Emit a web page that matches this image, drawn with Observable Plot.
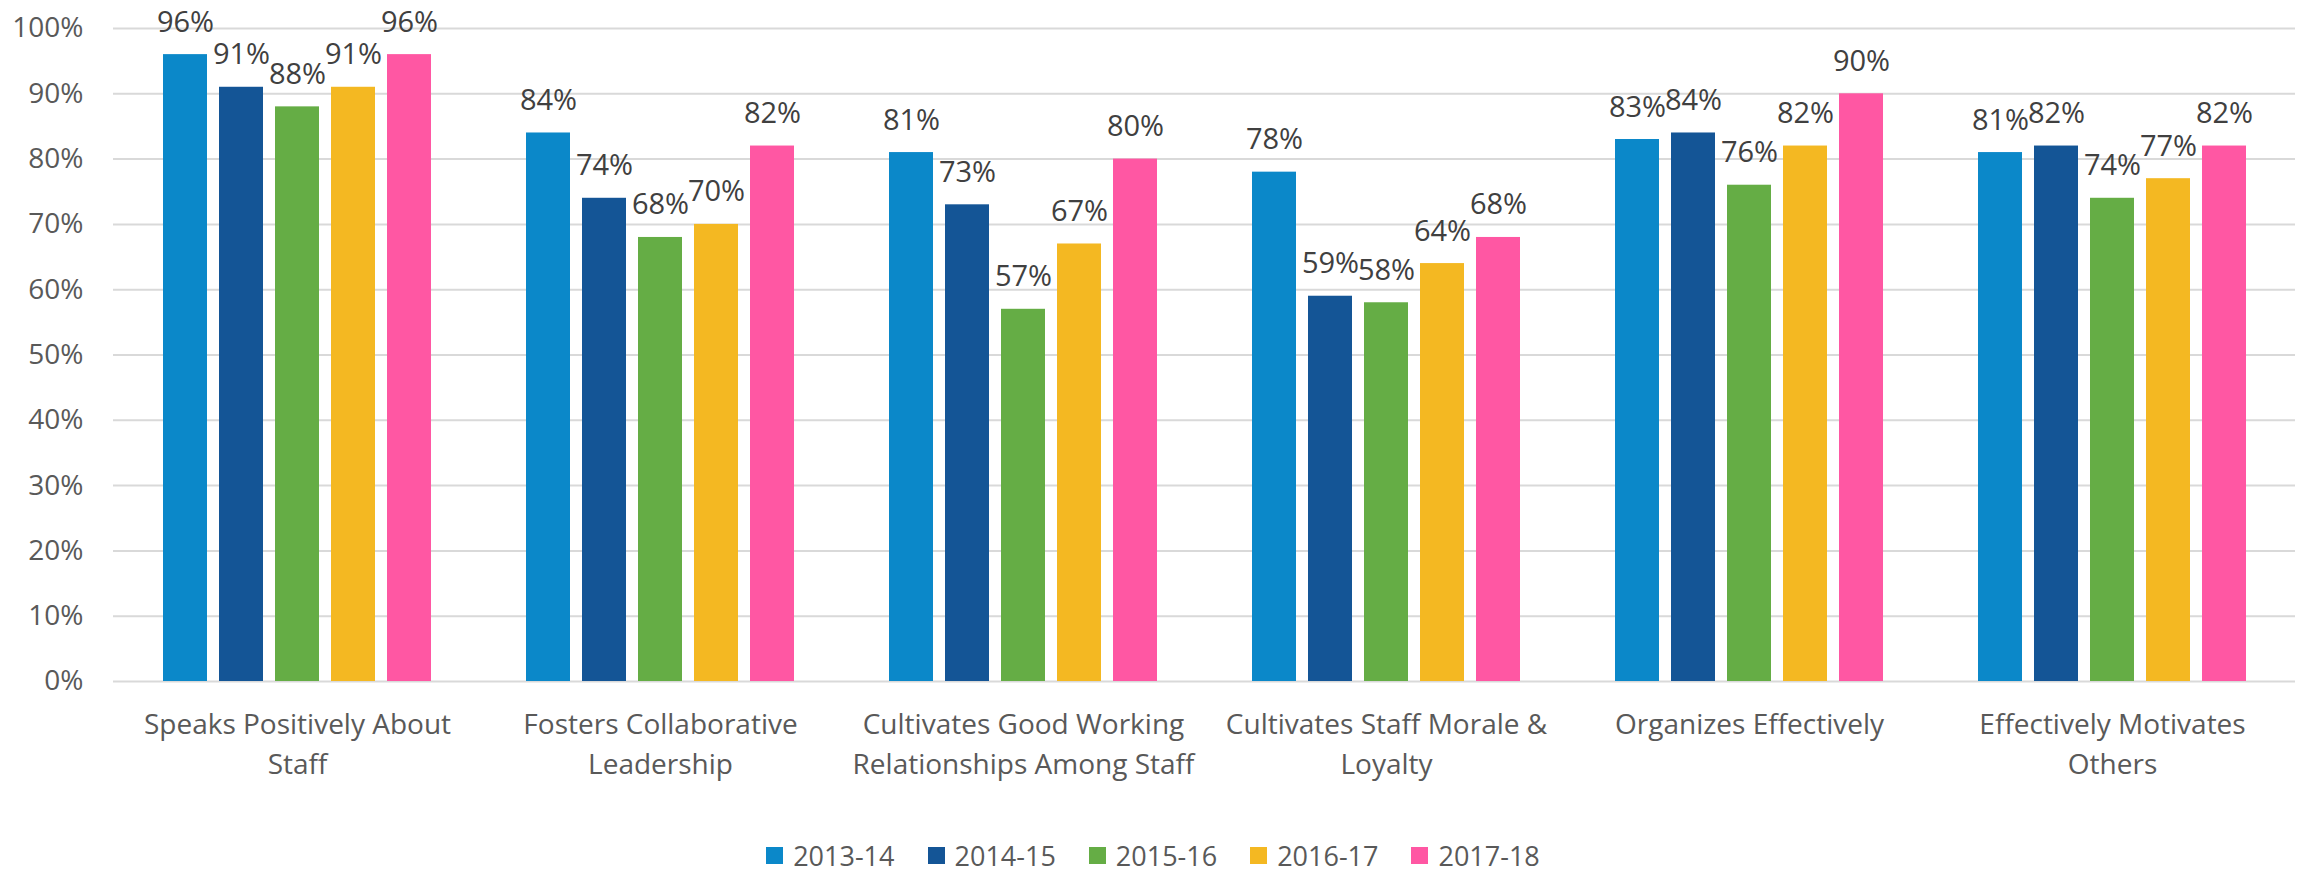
<!DOCTYPE html>
<html>
<head>
<meta charset="utf-8">
<script src="https://cdn.jsdelivr.net/npm/d3@7"></script>
<script src="https://cdn.jsdelivr.net/npm/@observablehq/plot@0.6"></script>
<style>
  body { margin: 0; background: #fff; font-family: "Open Sans", sans-serif; }
  #chart { position: relative; width: 2306px; height: 810px; }
  #chart svg { position: absolute; left: 0; top: 0; }
  #legend { display: flex; justify-content: center; align-items: center; height: 90px; gap: 33px; font-size: 27px; color: #595959; }
  .item { display: flex; align-items: center; gap: 10px; }
  .sw { width: 17px; height: 17px; }
</style>
</head>
<body>
<div id="chart"></div>
<div id="legend"></div>
<script>
const categories = [
  "Speaks Positively About Staff",
  "Fosters Collaborative Leadership",
  "Cultivates Good Working Relationships Among Staff",
  "Cultivates Staff Morale & Loyalty",
  "Organizes Effectively",
  "Effectively Motivates Others"
];
const categoryLabels = [
  "Speaks Positively About\nStaff",
  "Fosters Collaborative\nLeadership",
  "Cultivates Good Working\nRelationships Among Staff",
  "Cultivates Staff Morale &\nLoyalty",
  "Organizes Effectively",
  "Effectively Motivates\nOthers"
];
const years = ["2013-14", "2014-15", "2015-16", "2016-17", "2017-18"];
const colors = ["#0b88c9", "#145596", "#65ad45", "#f4b822", "#ff57a3"];

const v2013_14 = [96, 84, 81, 78, 83, 81];
const v2014_15 = [91, 74, 73, 59, 84, 82];
const v2015_16 = [88, 68, 57, 58, 76, 74];
const v2016_17 = [91, 70, 67, 64, 82, 77];
const v2017_18 = [96, 82, 80, 68, 90, 82];
const yTicks = [0, 10, 20, 30, 40, 50, 60, 70, 80, 90, 100];

const series = [v2013_14, v2014_15, v2015_16, v2016_17, v2017_18];
const data = [];
categories.forEach((c, i) => {
  years.forEach((y, j) => data.push({category: c, year: y, value: series[j][i]}));
});

const frame = {
  width: 2306,
  height: 810,
  marginLeft: 113,
  marginRight: 11,
  marginTop: 28,
  marginBottom: 129
};

// Background: continuous gridlines and y axis
const back = Plot.plot({
  ...frame,
  style: {fontFamily: "Open Sans", fontSize: "27px", background: "white"},
  y: {domain: [0, 100], axis: null, label: null},
  marks: [
    Plot.ruleY(yTicks, {stroke: "#d9d9d9", strokeWidth: 2}),
    Plot.axisY({ticks: yTicks, tickFormat: d => d + "%", tickSize: 0, tickPadding: 30, fill: "#595959", fontSize: 28, label: null})
  ]
});

// Foreground: grouped bars, labels, category axis
const front = Plot.plot({
  ...frame,
  style: {fontFamily: "Open Sans", fontSize: "28px", background: "transparent"},
  fx: {domain: categories, paddingInner: 0.23, paddingOuter: 0.115, axis: null, label: null},
  x: {domain: years, paddingInner: 0.209, paddingOuter: 0.1045, axis: null},
  y: {domain: [0, 100], axis: null, label: null},
  color: {domain: years, range: colors},
  marks: [
    Plot.barY(data, {fx: "category", x: "year", y: "value", fill: "year"}),
    Plot.text(data, {fx: "category", x: "year", y: "value", text: d => d.value + "%", lineAnchor: "bottom", dy: -23, fill: "#404040", fontSize: 29}),
    Plot.axisFx({anchor: "bottom", tickSize: 0, tickPadding: 25, tickFormat: d => categoryLabels[categories.indexOf(d)], lineHeight: 1.4, fill: "#595959", fontSize: 28, label: null})
  ]
});

const host = document.getElementById("chart");
host.appendChild(back);
host.appendChild(front);

const legend = document.getElementById("legend");
years.forEach((y, i) => {
  const item = document.createElement("div");
  item.className = "item";
  const sw = document.createElement("div");
  sw.className = "sw";
  sw.style.background = colors[i];
  const t = document.createElement("span");
  t.textContent = y;
  item.appendChild(sw);
  item.appendChild(t);
  legend.appendChild(item);
});
</script>
</body>
</html>
